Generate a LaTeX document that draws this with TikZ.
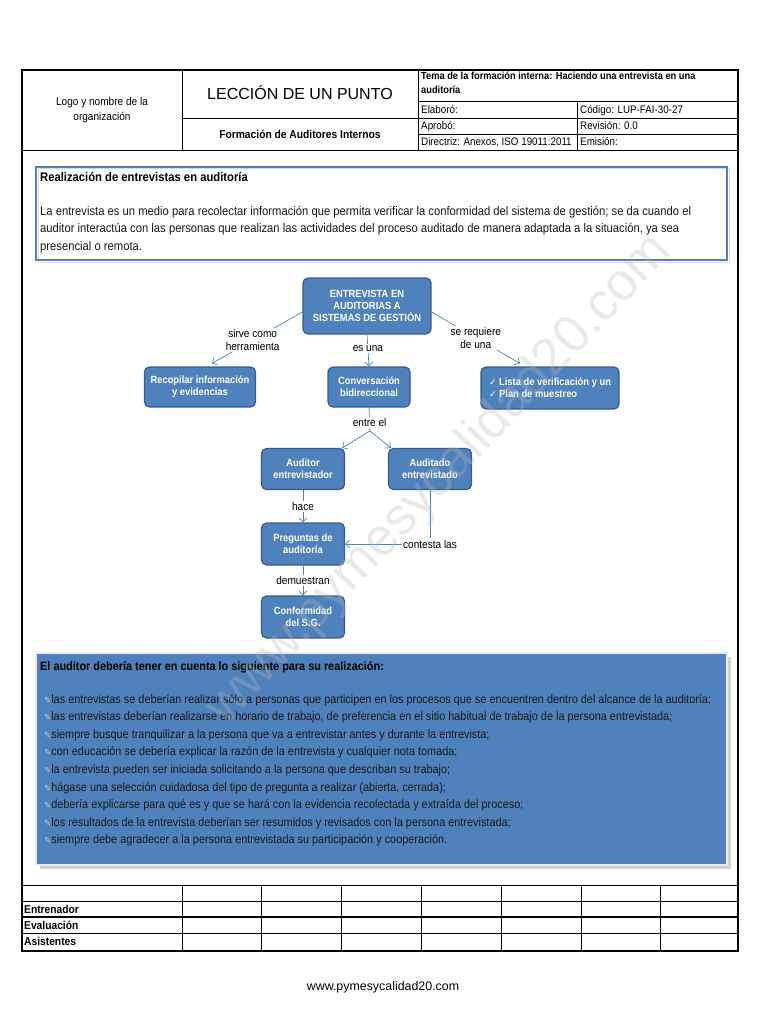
\documentclass[tikz,border=0pt]{standalone}
\usepackage{fontspec}
\setmainfont{Liberation Sans}
\newfontfamily\narrow{Liberation Sans}[FakeStretch=0.9]
\newfontfamily\dejavu{DejaVu Sans}
\usepackage{xcolor}
\usepackage{tikz}
\usetikzlibrary{calc}
\usetikzlibrary{arrows,arrows.meta}
\definecolor{lupblue}{HTML}{4F81BD}
\definecolor{lupedge}{HTML}{385D8A}
\newcommand{\lapiz}{{\dejavu\fontsize{8.5}{8.5}\selectfont\color{gray!40}✎}}
\newcommand{\visto}{{\dejavu\fontsize{9}{9}\selectfont ✓}}
\tikzstyle{every node}=[font=\narrow\fontsize{11.2}{13}\selectfont, inner sep=0pt]
\tikzstyle{campo}=[anchor=base west, font=\narrow\fontsize{10.9}{13}\selectfont]
\tikzstyle{titular}=[font=\narrow\bfseries\fontsize{12.5}{14}\selectfont]
\tikzstyle{concept}=[draw=lupedge, line width=1.2pt, fill=lupblue, rounded corners=5pt, text=white, font=\narrow\bfseries\fontsize{10.4}{12}\selectfont, align=center]
\tikzstyle{link}=[draw=lupblue, line width=0.7pt, >={Straight Barb[length=4pt,width=8pt]}]
\tikzstyle{linklabel}=[fill=white, inner sep=1.5pt, align=center, font=\narrow\fontsize{11.2}{13}\selectfont]
\tikzstyle{punto}=[anchor=base west, text=black!90, font=\narrow\fontsize{12.1}{14}\selectfont]

\begin{document}
\begin{tikzpicture}[x=1pt,y=-1pt]
    \fill[white] (0,0) rectangle (768,1024);
    \useasboundingbox (0,0) rectangle (768,1024);

    % encabezado
    \draw[line width=1.4pt] (22,70) rectangle (738,951);
    \draw[line width=0.9pt] (22,150) -- (738,150);
    \draw[line width=0.9pt] (182,70) -- (182,150) (418,70) -- (418,150);
    \draw[line width=0.6pt] (418,101) -- (738,101) (182,118) -- (738,118) (418,134) -- (738,134) (577,101) -- (577,150);

    \node[align=center] (logo) at (102,110) {Logo y nombre de la\\[2pt]organización};
    \node[font=\fontsize{16}{18}\selectfont] (leccion) at (300,93) {LECCIÓN DE UN PUNTO};
    \node[font=\narrow\bfseries\fontsize{11.4}{13}\selectfont] (curso) at (300,134) {Formación de Auditores Internos};
    \node[font=\narrow\bfseries\fontsize{10.3}{13.5}\selectfont, anchor=north west, align=left] (tema) at (421,72) {Tema de la formación interna: Haciendo una entrevista en una\\auditoría};
    \node[campo] (elaboro) at (421,114) {Elaboró:};
    \node[campo] (codigo) at (580,114) {Código: LUP-FAI-30-27};
    \node[campo] (aprobo) at (421,130) {Aprobó:};
    \node[campo] (revision) at (580,130) {Revisión: 0.0};
    \node[campo] (directriz) at (421,146) {Directriz: Anexos, ISO 19011:2011};
    \node[campo] (emision) at (580,146) {Emisión:};

    % introduccion
    \draw[gray!30, line width=1pt] (38,169) rectangle (729,262);
    \draw[lupblue, line width=1.6pt] (36,167) rectangle (727,260);
    \node[titular, anchor=base west] (intro) at (40,182) {Realización de entrevistas en auditoría};
    \node[punto, font=\narrow\fontsize{12.5}{14}\selectfont] (linea1) at (40,216) {La entrevista es un medio para recolectar información que permita verificar la conformidad del sistema de gestión; se da cuando el};
    \node[punto, font=\narrow\fontsize{12.5}{14}\selectfont] (linea2) at (40,233) {auditor interactúa con las personas que realizan las actividades del proceso auditado de manera adaptada a la situación, ya sea};
    \node[punto, font=\narrow\fontsize{12.5}{14}\selectfont] (linea3) at (40,250) {presencial o remota.};

    % mapa conceptual
    \node[concept, minimum width=128pt, minimum height=56pt] (entrevista) at (367,306) {ENTREVISTA EN\\AUDITORIAS A\\SISTEMAS DE GESTIÓN};
    \node[concept, minimum width=111pt, minimum height=40pt] (recopilar) at (200,387) {Recopilar información\\y evidencias};
    \node[concept, minimum width=82pt, minimum height=40pt] (conversacion) at (369,387) {Conversación\\bidireccional};
    \node[concept, minimum width=138pt, minimum height=42pt, align=left] (lista) at (550,388) {\visto\ Lista de verificación y un\\\visto\ Plan de muestreo};
    \node[concept, minimum width=83pt, minimum height=41pt] (auditor) at (303,469) {Auditor\\entrevistador};
    \node[concept, minimum width=83pt, minimum height=41pt] (auditado) at (430,469) {Auditado\\entrevistado};
    \node[concept, minimum width=83pt, minimum height=42pt] (preguntas) at (303,544) {Preguntas de\\auditoría};
    \node[concept, minimum width=83pt, minimum height=42pt] (conformidad) at (303,617) {Conformidad\\del S.G.};
    \coordinate (reparto) at (370,431);

    \draw[link,->] ([yshift=-6pt]entrevista.west) -- node[linklabel, pos=0.55]{sirve como\\herramienta} ([xshift=12pt,yshift=3pt]recopilar.north);
    \draw[link,->] (entrevista.south) -- node[linklabel, pos=0.45]{es una} (conversacion.north);
    \draw[link,->] ([yshift=-6pt]entrevista.east) -- node[linklabel, pos=0.5]{se requiere\\de una} ([xshift=-30pt,yshift=3pt]lista.north);
    \draw[link] (conversacion.south) -- node[linklabel, pos=0.65]{entre el} (reparto);
    \draw[link,->] (reparto) -- ([xshift=-3pt]auditor.north east);
    \draw[link,->] (reparto) -- ([xshift=3pt]auditado.north west);
    \draw[link,->] (auditor.south) -- node[linklabel]{hace} (preguntas.north);
    \draw[link,->] (preguntas.south) -- node[linklabel]{demuestran} (conformidad.north);
    \draw[link,->] (auditado.south) |- node[linklabel, pos=0.5]{contesta las} (preguntas.east);

    % recomendaciones
    \fill[gray!35] (40,657) rectangle (731,869);
    \draw[fill=lupblue, draw=gray!15, line width=2pt] (36,653) rectangle (727,865);
    \node[titular, font=\narrow\bfseries\fontsize{12.1}{14}\selectfont, anchor=base west, text=black] (consejos) at (40,670) {El auditor debería tener en cuenta lo siguiente para su realización:};
    \foreach \texto [count=\i] in {
        {las entrevistas se deberían realizar sólo a personas que participen en los procesos que se encuentren dentro del alcance de la auditoría;},
        {las entrevistas deberían realizarse en horario de trabajo, de preferencia en el sitio habitual de trabajo de la persona entrevistada;},
        {siempre busque tranquilizar a la persona que va a entrevistar antes y durante la entrevista;},
        {con educación se debería explicar la razón de la entrevista y cualquier nota tomada;},
        {la entrevista pueden ser iniciada solicitando a la persona que describan su trabajo;},
        {hágase una selección cuidadosa del tipo de pregunta a realizar (abierta, cerrada);},
        {debería explicarse para qué es y que se hará con la evidencia recolectada y extraída del proceso;},
        {los resultados de la entrevista deberían ser resumidos y revisados con la persona entrevistada;},
        {siempre debe agradecer a la persona entrevistada su participación y cooperación.}}
        \node[punto] (punto\i) at (44,{685.5+17.6*\i}) {\lapiz\texto};

    % tabla de firmas
    \draw[line width=0.9pt] (22,885) -- (738,885);
    \draw[line width=0.6pt] (22,901) -- (738,901) (22,933) -- (738,933);
    \draw[line width=1.1pt] (22,917) -- (738,917);
    \foreach \x in {182,261,341,421,501,581,660}
        \draw[line width=0.6pt] (\x,885) -- (\x,951);
    \node[campo, font=\narrow\bfseries\fontsize{11.4}{13}\selectfont] (entrenador) at (24,913.5) {Entrenador};
    \node[campo, font=\narrow\bfseries\fontsize{11.4}{13}\selectfont] (evaluacion) at (24,929.5) {Evaluación};
    \node[campo, font=\narrow\bfseries\fontsize{11.4}{13}\selectfont] (asistentes) at (24,945.5) {Asistentes};

    % pie y marca de agua
    \node[font=\fontsize{12.4}{14}\selectfont] (web) at (383,987) {www.pymesycalidad20.com};
    \node[rotate=46.7, font=\fontsize{53}{53}\selectfont, text=gray!55, opacity=0.3] (marca) at (440,480) {www.pymesycalidad20.com};
\end{tikzpicture}
\end{document}
